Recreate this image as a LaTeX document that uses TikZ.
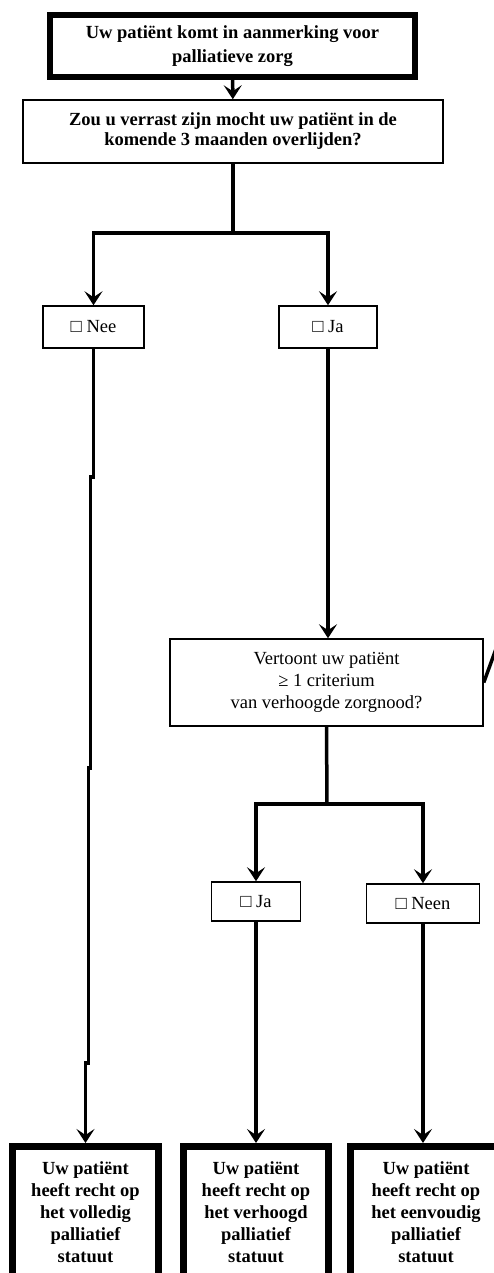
\documentclass[tikz,border=0pt]{standalone}
\usepackage{fontspec}
\setmainfont{Liberation Serif}
\usepackage{tikz}
\usetikzlibrary{arrows.meta}

\tikzset{
  box/.style={draw, line width=1.5pt, align=center, inner sep=0pt},
  vraagbox/.style={box, font=\fontsize{18.5}{20}\selectfont\bfseries},
  keuze/.style={box, font=\fontsize{18.5}{20}\selectfont},
  startbox/.style={box, line width=6pt, font=\fontsize{18.5}{24}\selectfont\bfseries},
  eindbox/.style={box, line width=7pt, minimum height=131pt, font=\fontsize{18.5}{22}\selectfont\bfseries},
  lijn/.style={line width=3.5pt},
  conn/.style={lijn, -{Stealth[length=14pt, width=18pt, inset=6pt]}}
}

\begin{document}
\begin{tikzpicture}[x=1pt, y=-1pt]
\useasboundingbox (0,0) rectangle (494,1273);

\node [startbox, minimum width=365pt, minimum height=62pt] (top) at (232.5,46) {Uw patiënt komt in aanmerking voor\\palliatieve zorg};
\node [vraagbox, minimum width=420pt, minimum height=63pt] (vraag1) at (233,131.5) {Zou u verrast zijn mocht uw patiënt in de\\komende 3 maanden overlijden?};
\node [keuze, minimum width=101pt, minimum height=42pt] (nee) at (93.5,327) {□ Nee};
\node [keuze, minimum width=98pt, minimum height=42pt] (ja) at (328,327) {□ Ja};
\node [keuze, font=\fontsize{18.5}{22}\selectfont, minimum width=313pt, minimum height=87pt] (vraag2) at (326.5,682.5) {Vertoont uw patiënt\\≥ 1 criterium\\van verhoogde zorgnood?};
\node [keuze, minimum width=89pt, minimum height=39pt] (ja2) at (256,901.5) {□ Ja};
\node [keuze, minimum width=113pt, minimum height=39pt] (neen) at (423,903.5) {□ Neen};
\node [eindbox, minimum width=146pt] (vol) at (85.5,1212) {Uw patiënt\\heeft recht op\\het volledig\\palliatief\\statuut};
\node [eindbox, minimum width=145pt] (verh) at (256,1212) {Uw patiënt\\heeft recht op\\het verhoogd\\palliatief\\statuut};
\node [eindbox, minimum width=151pt] (eenv) at (426,1212) {Uw patiënt\\heeft recht op\\het eenvoudig\\palliatief\\statuut};

\coordinate (split1) at (233,233);
\coordinate (split2) at (327,804);
\coordinate (buiten) at (508,616);

\draw [conn] (top) -- (vraag1);
\draw [lijn] (vraag1.south) -- (split1);
\draw [conn] (split1) -| (nee.north);
\draw [conn] (split1) -| (ja.north);
\draw [conn] (nee.south) -- ++(0,128) -- ++(-3,0) -- ++(0,291) -- ++(-2,0) -- ++(0,295) -| (vol.north);
\draw [conn] (ja.south) -- (ja.south |- vraag2.north);
\draw [lijn] (buiten) -- (vraag2.east);
\draw [lijn] (vraag2.south) -- (split2);
\draw [conn] (split2) -| (ja2.north);
\draw [conn] (split2) -| (neen.north);
\draw [conn] (ja2.south) -- (ja2.south |- verh.north);
\draw [conn] (neen.south) -- (neen.south |- eenv.north);
\end{tikzpicture}
\end{document}
